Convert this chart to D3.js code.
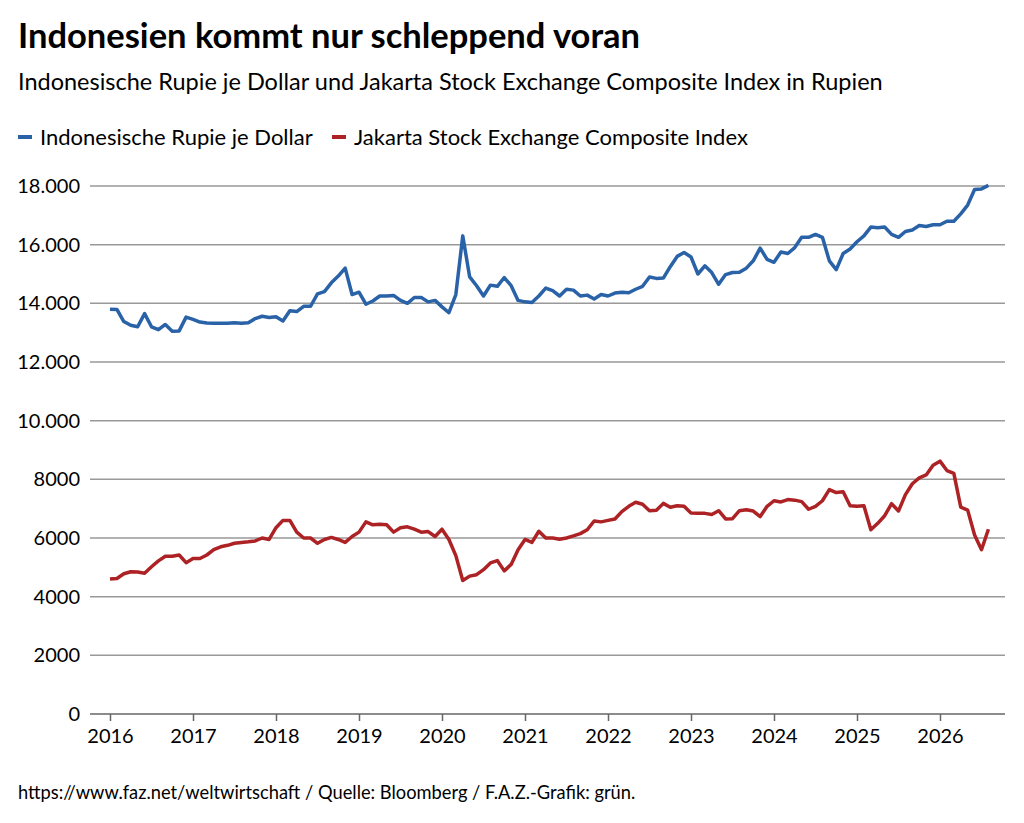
<!DOCTYPE html>
<html><head><meta charset="utf-8">
<script src="https://cdn.jsdelivr.net/npm/d3@7"></script>
<style>body{margin:0;background:#fff;font-family:Lato,sans-serif}</style>
</head><body><div id="chart"></div>
<script>
const width = 1024, height = 823
const m = {left: 90, right: 1005, top: 186, bottom: 714}

// monthly values, Jan 2016 onwards
const idr = [
  13800,13790,13380,13250,13200,13650,13200,13100,13280,13050,13060,13530,
  13450,13360,13330,13320,13320,13320,13340,13320,13340,13480,13560,13520,
  13540,13400,13750,13720,13900,13900,14320,14400,14700,14930,15200,14300,
  14380,13970,14080,14250,14250,14270,14100,14000,14200,14200,14050,14100,
  13880,13680,14300,16300,14900,14600,14250,14620,14580,14880,14600,14100,
  14050,14030,14250,14520,14430,14250,14480,14450,14250,14280,14150,14300,
  14250,14350,14380,14360,14480,14580,14900,14850,14860,15250,15600,15730,
  15580,15000,15280,15050,14650,14980,15050,15060,15200,15450,15880,15500,
  15400,15750,15700,15900,16250,16250,16350,16250,15450,15150,15700,15850,
  16100,16300,16600,16580,16600,16350,16250,16450,16500,16650,16620,16680,
  16680,16800,16800,17050,17350,17880,17900,18020]
const jci = [
  4600,4620,4780,4850,4840,4800,5020,5220,5380,5380,5420,5160,
  5300,5300,5420,5600,5700,5750,5820,5850,5870,5900,6000,5950,
  6350,6600,6600,6200,6000,6000,5820,5950,6020,5950,5850,6050,
  6200,6550,6450,6470,6450,6200,6350,6380,6300,6200,6220,6050,
  6300,5950,5400,4550,4700,4750,4920,5150,5230,4880,5100,5600,
  5950,5850,6230,6000,6000,5960,6000,6070,6150,6280,6580,6550,
  6600,6650,6900,7080,7220,7150,6930,6950,7180,7050,7100,7080,
  6850,6840,6840,6800,6930,6650,6660,6930,6960,6920,6730,7080,
  7270,7230,7310,7290,7240,6980,7080,7270,7650,7550,7580,7100,
  7080,7100,6280,6500,6760,7170,6920,7480,7850,8050,8150,8480,
  8620,8300,8200,7050,6950,6100,5600,6300]

const t = i => 2016 + i / 12
const x = d3.scaleLinear().domain([2016, 2026]).range([110, 940])
const y = d3.scaleLinear().domain([0, 18000]).range([m.bottom, m.top])

const svg = d3.select('#chart').append('svg').attr('width', width).attr('height', height)

svg.append('text').attr('x', 18).attr('y', 48).attr('font-size', 34.5).attr('font-weight', 'bold')
  .text('Indonesien kommt nur schleppend voran')
svg.append('text').attr('x', 18).attr('y', 90).attr('font-size', 23.5)
  .text('Indonesische Rupie je Dollar und Jakarta Stock Exchange Composite Index in Rupien')

const legend = [['Indonesische Rupie je Dollar', '#2a62a8', 18], ['Jakarta Stock Exchange Composite Index', '#ad2225', 332]]
legend.forEach(([name, col, lx]) => {
  svg.append('line').attr('x1', lx).attr('x2', lx + 14).attr('y1', 137).attr('y2', 137)
    .attr('stroke', col).attr('stroke-width', 4)
  svg.append('text').attr('x', lx + 22).attr('y', 145).attr('font-size', 22).text(name)
})

// gridlines + y labels
const yt = d3.range(0, 18001, 2000)
svg.selectAll('.grid').data(yt).enter().append('line')
  .attr('x1', m.left).attr('x2', m.right).attr('y1', d => y(d)).attr('y2', d => y(d))
  .attr('stroke', d => d === 0 ? '#666' : '#999').attr('stroke-width', 1.5)
svg.selectAll('.yl').data(yt).enter().append('text')
  .attr('x', 80).attr('y', d => y(d) + 7).attr('text-anchor', 'end').attr('font-size', 20)
  .text(d => d >= 10000 ? d3.format(',')(d).replace(',', '.') : d)

const xAxis = d3.axisBottom(x).tickValues(d3.range(2016, 2027)).tickFormat(d3.format('d')).tickSize(7).tickPadding(8)
const gx = svg.append('g').attr('transform', `translate(0,${m.bottom})`).call(xAxis)
gx.select('.domain').remove()
gx.selectAll('line').attr('stroke', '#666').attr('stroke-width', 1.5)
gx.selectAll('text').attr('font-size', 20).attr('font-family', 'Lato,sans-serif').attr('fill', '#000')

const line = d3.line().x((d, i) => x(t(i))).y(d => y(d))
svg.append('path').datum(jci).attr('d', line).attr('fill', 'none').attr('stroke', '#ad2225').attr('stroke-width', 3.5).attr('stroke-linejoin', 'round')
svg.append('path').datum(idr).attr('d', line).attr('fill', 'none').attr('stroke', '#2a62a8').attr('stroke-width', 3.5).attr('stroke-linejoin', 'round')

svg.append('text').attr('x', 18).attr('y', 799).attr('font-size', 18.3)
  .text('https://www.faz.net/weltwirtschaft / Quelle: Bloomberg  / F.A.Z.-Grafik: grün.')
</script></body></html>
